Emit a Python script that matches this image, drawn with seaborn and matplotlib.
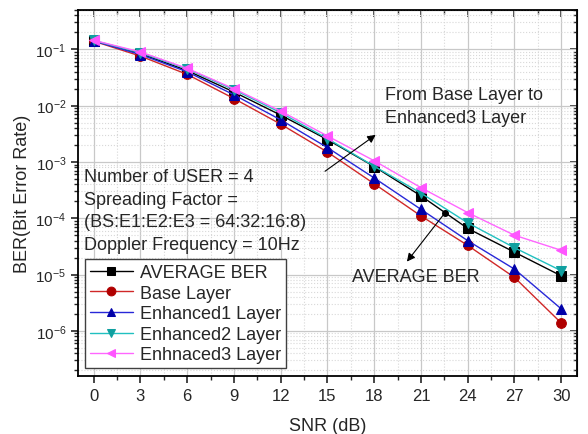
import numpy as np
import pandas as pd
import seaborn as sns
import matplotlib

matplotlib.use("Agg")
import matplotlib.pyplot as plt
from matplotlib.ticker import MultipleLocator, LogLocator, LogFormatterSciNotation, NullFormatter

# Data.
snr = [0, 3, 6, 9, 12, 15, 18, 21, 24, 27, 30]
ber_average = [0.142, 0.084, 0.042, 0.0175, 0.0068, 0.0025, 0.00083, 0.00025, 6.6e-5, 2.5e-5, 9.5e-6]
ber_base = [0.140, 0.076, 0.036, 0.0134, 0.0047, 0.0015, 0.00041, 0.00011, 3.3e-5, 8.9e-6, 1.38e-6]
ber_enh1 = [0.141, 0.081, 0.040, 0.0156, 0.0056, 0.0018, 0.00052, 0.000144, 4.0e-5, 1.25e-5, 2.46e-6]
ber_enh2 = [0.144, 0.087, 0.045, 0.0192, 0.0075, 0.0026, 0.00084, 0.00028, 8.3e-5, 3.0e-5, 1.17e-5]
ber_enh3 = [0.145, 0.090, 0.046, 0.0200, 0.0080, 0.0029, 0.00105, 0.00035, 0.000126, 5.0e-5, 2.7e-5]

series_names = ["AVERAGE BER", "Base Layer", "Enhanced1 Layer", "Enhanced2 Layer", "Enhnaced3 Layer"]
series_values = [ber_average, ber_base, ber_enh1, ber_enh2, ber_enh3]

info_lines = [
    "Number of USER = 4",
    "Spreading Factor =",
    "(BS:E1:E2:E3 = 64:32:16:8)",
    "Doppler Frequency = 10Hz",
]

# Styles per series: (line colour, marker face colour, marker).
styles = {
    "AVERAGE BER": ("#000000", "#000000", "s"),
    "Base Layer": ("#D02828", "#B00000", "o"),
    "Enhanced1 Layer": ("#2828D8", "#0000A8", "^"),
    "Enhanced2 Layer": ("#20C0C0", "#10A0A0", "v"),
    "Enhnaced3 Layer": ("#FF66FF", "#FF55FF", "<"),
}

sns.set_style("ticks")
plt.rcParams["font.family"] = ["Liberation Sans", "DejaVu Sans"]
plt.rcParams["mathtext.default"] = "regular"

fig = plt.figure(figsize=(5.88, 4.35), dpi=100)
ax = fig.add_axes([0.1327, 0.1333, 0.8483, 0.8414])

for name, values in zip(series_names, series_values):
    line_c, face_c, marker = styles[name]
    df = pd.DataFrame({"snr": snr, "ber": values})
    sns.lineplot(
        data=df,
        x="snr",
        y="ber",
        color=line_c,
        marker=marker,
        markersize=7,
        markerfacecolor=face_c,
        markeredgecolor=face_c,
        linewidth=1.0,
        label=name,
        ax=ax,
    )

ax.set_yscale("log")
ax.set_xlim(-1, 31)
ax.set_ylim(1.58e-7, 0.5)

ax.xaxis.set_major_locator(MultipleLocator(3))
ax.xaxis.set_minor_locator(MultipleLocator(1.5))
ax.yaxis.set_major_locator(LogLocator(base=10, numticks=20))
ax.yaxis.set_minor_locator(LogLocator(base=10, subs=np.arange(2, 10), numticks=20))
ax.yaxis.set_major_formatter(LogFormatterSciNotation())
ax.yaxis.set_minor_formatter(NullFormatter())

ax.grid(which="major", color="#C8C8C8", linestyle="-", linewidth=0.9)
ax.grid(which="minor", color="#D8D8D8", linestyle=":", linewidth=0.8)
ax.set_axisbelow(True)

for spine in ax.spines.values():
    spine.set_linewidth(1.3)
    spine.set_color("#000000")

# Outward ticks bottom/left, inward ticks top/right.
ax.tick_params(axis="x", which="major", direction="out", length=5, width=1.2, labelsize=12)
ax.tick_params(axis="y", which="major", direction="out", length=5, width=1.2, labelsize=11)
ax.tick_params(which="minor", direction="out", length=3, width=1.0)

top = ax.secondary_xaxis("top")
top.xaxis.set_major_locator(MultipleLocator(3))
top.xaxis.set_minor_locator(MultipleLocator(1.5))
top.tick_params(which="major", direction="in", length=5, width=1.2, labeltop=False)
top.tick_params(which="minor", direction="in", length=3, width=1.0)

right = ax.secondary_yaxis("right")
right.yaxis.set_major_locator(LogLocator(base=10, numticks=20))
right.yaxis.set_minor_locator(LogLocator(base=10, subs=np.arange(2, 10), numticks=20))
right.tick_params(which="major", direction="in", length=5, width=1.2, labelright=False)
right.tick_params(which="minor", direction="in", length=3, width=1.0, labelright=False)

ax.set_xlabel("SNR (dB)", fontsize=13, labelpad=10)
ax.set_ylabel("BER(Bit Error Rate)", fontsize=13, labelpad=3)

# Info text block on the left.
for i, line in enumerate(info_lines):
    ax.text(0.012, 0.545 - i * 0.0615, line, transform=ax.transAxes,
            fontsize=13, va="center", ha="left")

ax.text(0.615, 0.770, "From Base Layer to", transform=ax.transAxes,
        fontsize=13, va="center", ha="left")
ax.text(0.615, 0.707, "Enhanced3 Layer", transform=ax.transAxes,
        fontsize=13, va="center", ha="left")
ax.annotate("", xy=(18.24, 3.24e-3), xytext=(14.7, 6.4e-4),
            arrowprops=dict(arrowstyle="-|>", color="#000000", lw=0.8, mutation_scale=12))

ax.text(0.549, 0.273, "AVERAGE BER", transform=ax.transAxes,
        fontsize=13, va="center", ha="left")
ax.annotate("", xy=(20.1, 1.7e-5), xytext=(22.55, 1.26e-4),
            arrowprops=dict(arrowstyle="-|>", color="#000000", lw=0.8, mutation_scale=12,
                            shrinkA=0, shrinkB=0))
ax.plot([22.55], [1.26e-4], marker="o", markersize=4, color="#000000")

leg = ax.legend(loc="lower left", bbox_to_anchor=(0.014, 0.022), borderaxespad=0,
                fontsize=13, frameon=True, fancybox=False, edgecolor="#404040",
                framealpha=1, handlelength=2.4, handletextpad=0.4, labelspacing=0.2,
                borderpad=0.25, markerscale=0.9)
leg.get_frame().set_linewidth(1.0)

fig.savefig("out.png", dpi=100)
plt.close()
